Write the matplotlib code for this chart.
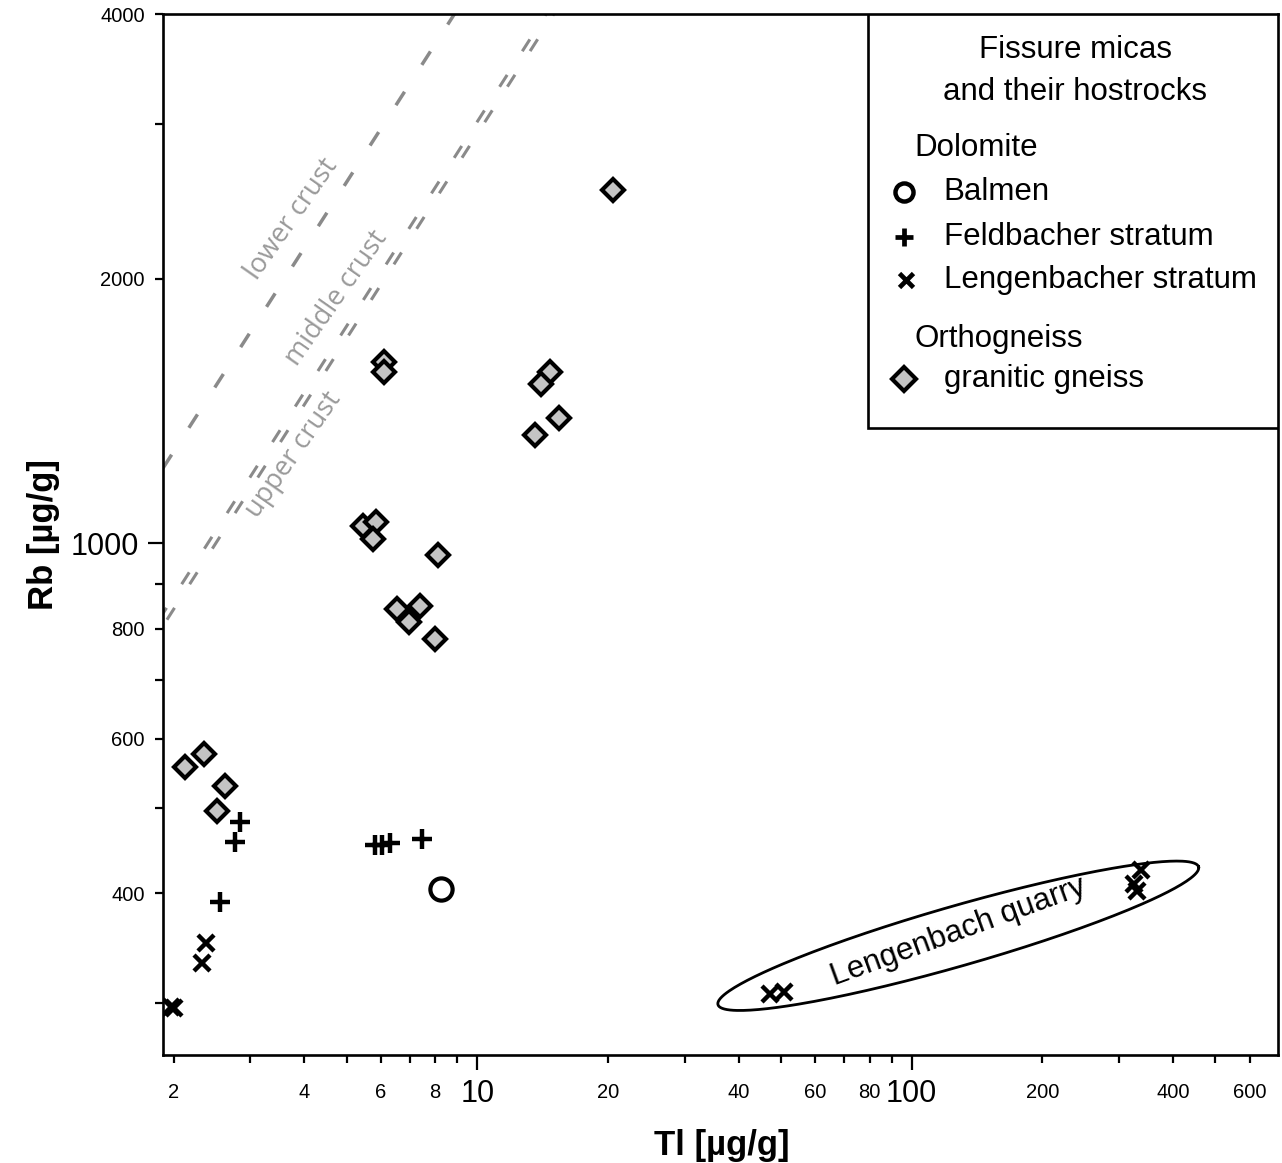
import numpy as np
import matplotlib
matplotlib.use("Agg")
import matplotlib.pyplot as plt
from matplotlib.patches import Rectangle

plt.rcParams['font.family'] = ['Liberation Sans', 'DejaVu Sans']

# data: Tl and Rb in ug/g
gneiss_tl = [20.5, 6.1, 6.1, 14.7, 14.0, 15.4, 13.6, 5.45, 5.85, 5.75, 8.1, 6.55, 7.4, 6.95, 8.0,
             2.12, 2.35, 2.63, 2.52]
gneiss_rb = [2520, 1610, 1565, 1565, 1520, 1390, 1330, 1048, 1057, 1013, 970, 843, 850, 815, 779,
             557, 576, 530, 496]

feld_tl = [2.84, 2.77, 2.56, 5.8, 6.05, 6.3, 7.45]
feld_rb = [482, 458, 391, 454, 454, 456, 461]

balmen_tl = [8.25]
balmen_rb = [405]

leng_tl = [2.38, 2.32, 1.97, 2.0, 47.3, 50.8, 338, 325, 330]
leng_rb = [351, 333, 297, 296, 307, 309, 425, 410, 402]

# crust reference lines (end points)
lower_tl = [1.89, 8.86]
lower_rb = [1218, 4000]
middle_tl = [1.85, 14.4]
middle_rb = [819, 4000]
upper_tl = [1.93, 15.0]
upper_rb = [819, 4000]

# label positions for the crust lines
crust_labels = ['lower crust', 'middle crust', 'upper crust']
crust_lab_tl = [3.75, 4.75, 3.78]
crust_lab_rb = [2340, 1900, 1260]

# ellipse around Lengenbach quarry samples
ell_center = (128, 358)

x_major = [10, 100]
x_minor = [2, 3, 4, 5, 6, 7, 8, 9, 20, 30, 40, 50, 60, 70, 80, 90, 200, 300, 400, 500, 600]
x_minor_lab = {2: '2', 4: '4', 6: '6', 8: '8', 20: '20', 40: '40', 60: '60', 80: '80',
               200: '200', 400: '400', 600: '600'}
y_major = [1000]
y_minor = [300, 400, 500, 600, 700, 800, 900, 2000, 3000, 4000]
y_minor_lab = {400: '400', 600: '600', 800: '800', 2000: '2000', 4000: '4000'}

fig = plt.figure(figsize=(12.82, 11.63), dpi=100)
ax = fig.add_axes([163 / 1282, 1 - 1055 / 1163, 1115 / 1282, 1041 / 1163])
ax.set_xscale('log')
ax.set_yscale('log')
ax.set_xlim(1.89, 697)
ax.set_ylim(262, 4000)

for s in ax.spines.values():
    s.set_linewidth(1.9)

# ticks
ax.xaxis.set_major_locator(matplotlib.ticker.FixedLocator(x_major))
ax.xaxis.set_minor_locator(matplotlib.ticker.FixedLocator(x_minor))
ax.xaxis.set_major_formatter(matplotlib.ticker.FixedFormatter(['10', '100']))
ax.xaxis.set_minor_formatter(matplotlib.ticker.FixedFormatter([x_minor_lab.get(v, '') for v in x_minor]))
ax.yaxis.set_major_locator(matplotlib.ticker.FixedLocator(y_major))
ax.yaxis.set_minor_locator(matplotlib.ticker.FixedLocator(y_minor))
ax.yaxis.set_major_formatter(matplotlib.ticker.FixedFormatter(['1000']))
ax.yaxis.set_minor_formatter(matplotlib.ticker.FixedFormatter([y_minor_lab.get(v, '') for v in y_minor]))

ax.tick_params(axis='both', which='major', direction='out', length=11, width=1.6,
               labelsize=22, colors='black')
ax.tick_params(axis='both', which='minor', direction='out', length=6, width=1.6,
               labelsize=14.5, colors='black')
ax.tick_params(axis='x', which='minor', pad=14)
ax.tick_params(axis='x', which='major', pad=6)
ax.tick_params(axis='y', which='minor', pad=7)
ax.tick_params(axis='y', which='major', pad=6)

# axis titles
fig.text(722 / 1282, 1 - 1146 / 1163, 'Tl [µg/g]', fontsize=25, fontweight='bold',
         ha='center', va='center')
ax.set_ylabel('Rb [µg/g]', fontsize=25, fontweight='bold', labelpad=8)

# crust lines
dash = (0, (4.6, 9.2))
ax.plot(lower_tl, lower_rb, color='#8a8a8a', lw=2.5, linestyle=dash, zorder=1)
ax.plot(middle_tl, middle_rb, color='#8a8a8a', lw=2.2, linestyle=dash, zorder=1)
ax.plot(upper_tl, upper_rb, color='#8a8a8a', lw=2.2, linestyle=dash, zorder=1)
for lab, xv, yv in zip(crust_labels, crust_lab_tl, crust_lab_rb):
    ax.text(xv, yv, lab, rotation=55, color='#9a9a9a', fontsize=19.5,
            family=['Open Sans', 'DejaVu Sans'], ha='center', va='center',
            rotation_mode='anchor')

# samples
ax.plot(gneiss_tl, gneiss_rb, 'D', ms=11.5, mfc='#c4c4c4', mec='black', mew=3, ls='none', zorder=3)
ax.plot(feld_tl, feld_rb, '+', ms=14, mec='black', mew=3.2, ls='none', zorder=3)
ax.plot(balmen_tl, balmen_rb, 'o', ms=16, mfc='none', mec='black', mew=3, ls='none', zorder=3)
ax.plot(leng_tl, leng_rb, 'x', ms=12, mec='black', mew=3.2, ls='none', zorder=3)

# ellipse drawn in display space, converted to data
cx, cy = ax.transData.transform(ell_center)
t = np.linspace(0, 2 * np.pi, 300)
a, b, ang = 250, 30, np.deg2rad(16)
px = cx + a * np.cos(t) * np.cos(ang) - b * np.sin(t) * np.sin(ang)
py = cy + a * np.cos(t) * np.sin(ang) + b * np.sin(t) * np.cos(ang)
ell = ax.transData.inverted().transform(np.column_stack([px, py]))
ax.plot(ell[:, 0], ell[:, 1], color='black', lw=2, zorder=2)
ax.text(ell_center[0], ell_center[1] * 1.01, 'Lengenbach quarry', rotation=20, fontsize=22.5,
        ha='center', va='center', rotation_mode='anchor')

# legend box drawn by hand
ax.add_patch(Rectangle((0.632, 0.602), 0.368, 0.398, transform=ax.transAxes, fill=True,
                       facecolor='white', edgecolor='black', lw=1.9, zorder=4))
kw = dict(transform=ax.transAxes, fontsize=22.5, va='center', zorder=5)
ax.text(0.818, 0.965, 'Fissure micas', ha='center', **kw)
ax.text(0.818, 0.925, 'and their hostrocks', ha='center', **kw)
ax.text(0.674, 0.871, 'Dolomite', ha='left', **kw)
ax.text(0.700, 0.829, 'Balmen', ha='left', **kw)
ax.text(0.700, 0.786, 'Feldbacher stratum', ha='left', **kw)
ax.text(0.700, 0.744, 'Lengenbacher stratum', ha='left', **kw)
ax.text(0.674, 0.688, 'Orthogneiss', ha='left', **kw)
ax.text(0.700, 0.649, 'granitic gneiss', ha='left', **kw)
mk = dict(transform=ax.transAxes, clip_on=False, ls='none', zorder=5)
ax.plot([0.665], [0.829], 'o', ms=13, mfc='none', mec='black', mew=3.2, **mk)
ax.plot([0.665], [0.786], '+', ms=13, mec='black', mew=3.4, **mk)
ax.plot([0.666], [0.744], 'x', ms=10, mec='black', mew=3.4, **mk)
ax.plot([0.665], [0.649], 'D', ms=12, mfc='#c4c4c4', mec='black', mew=3, **mk)

fig.savefig('out.png', dpi=100)
